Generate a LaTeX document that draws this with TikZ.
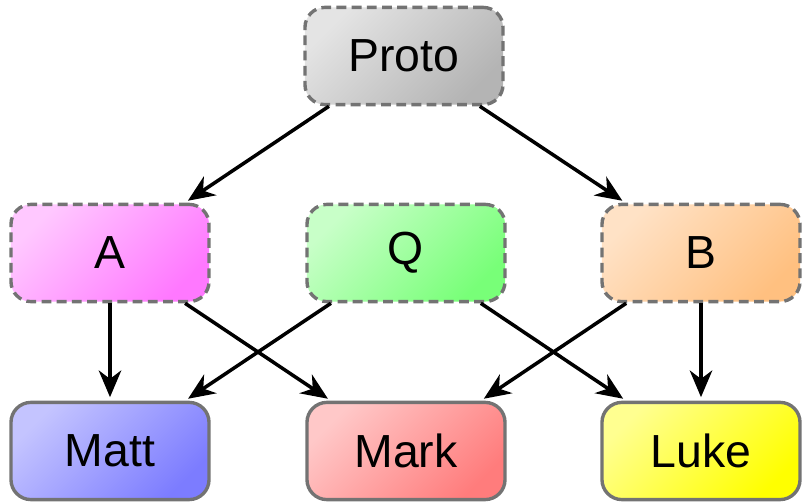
\documentclass[tikz,border=0pt]{standalone}
\usepackage{fontspec}
\setmainfont{Liberation Sans}
\usetikzlibrary{arrows.meta}
\tikzset{
    srcbox/.style={rectangle, rounded corners=0.5cm, minimum width=4.95cm, minimum height=2.43cm,
        draw=black!55, line width=2.4pt, font=\fontsize{33}{40}\selectfont},
    dashbox/.style={srcbox, dash pattern=on 7pt off 3.8pt},
    shadeit/.style 2 args={top color=#1, bottom color=#2, shading angle=45},
    link/.style={line width=2.5pt, -{Stealth[length=19pt,width=16pt,inset=6pt]}, shorten >=2.5pt}
}
\definecolor{protoA}{HTML}{E4E4E4}\definecolor{protoB}{HTML}{B4B4B4}
\definecolor{aA}{HTML}{FFC8FF}\definecolor{aB}{HTML}{FF78FF}
\definecolor{qA}{HTML}{C8FFC8}\definecolor{qB}{HTML}{78FF78}
\definecolor{bA}{HTML}{FFE2C6}\definecolor{bB}{HTML}{FFC080}
\definecolor{mattA}{HTML}{C4C4FF}\definecolor{mattB}{HTML}{7C7CFF}
\definecolor{markA}{HTML}{FFC8C8}\definecolor{markB}{HTML}{FF7C7C}
\definecolor{lukeA}{HTML}{FFFF90}\definecolor{lukeB}{HTML}{FFFF00}
\begin{document}
\begin{tikzpicture}[x=0.025cm, y=-0.025cm]
            \useasboundingbox (0,0) rectangle (802,504);
            % Defining the source documents
            \node[dashbox, shadeit={protoA}{protoB}] (proto) at (404,56) {Proto};
            \node[dashbox, shadeit={aA}{aB}] (a) at (110,253) {A};
            \node[dashbox, shadeit={qA}{qB}] (q) at (406,253) {Q};
            \node[dashbox, shadeit={bA}{bB}] (b) at (701,253) {B};
            % Defining the gospels
            \node[srcbox, shadeit={mattA}{mattB}] (matt) at (110,451) {Matt};
            \node[srcbox, shadeit={markA}{markB}] (mark) at (406,451) {Mark};
            \node[srcbox, shadeit={lukeA}{lukeB}] (luke) at (701,451) {Luke};
            % Drawing the dependencies
            \foreach \from/\to in {proto/a, proto/b, a/matt, a/mark, q/matt, q/luke, b/mark, b/luke} {
                    \draw[link] (\from) -- (\to);
                }
        \end{tikzpicture}
\end{document}
